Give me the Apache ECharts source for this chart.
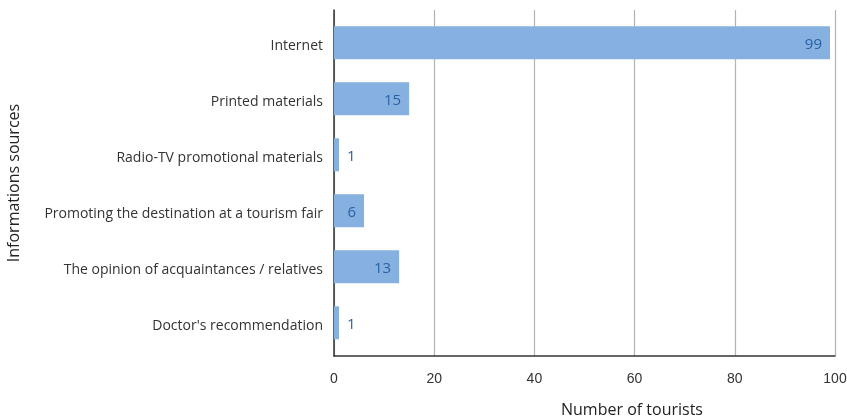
<!DOCTYPE html>
<html>
<head>
<meta charset="utf-8">
<script src="https://cdn.jsdelivr.net/npm/echarts@6/dist/echarts.min.js"></script>
<style>
  html, body { margin: 0; padding: 0; background: #fff; }
  #chart { width: 847px; height: 418px; }
</style>
</head>
<body>
<div id="chart"></div>
<script>
// Information sources used by tourists
const categories = [
  'Internet',
  'Printed materials',
  'Radio-TV promotional materials',
  'Promoting the destination at a tourism fair',
  'The opinion of acquaintances / relatives',
  "Doctor's recommendation"
];
const tourists = [99, 15, 1, 6, 13, 1];
const xTicks = [0, 20, 40, 60, 80, 100];

const labelFont = '"Open Sans", "Noto Sans", sans-serif';
const tickFont = '"Liberation Sans", Arial, sans-serif';

const chart = echarts.init(document.getElementById('chart'), null, { renderer: 'canvas' });

chart.setOption({
  animation: false,
  backgroundColor: '#ffffff',
  grid: [
    // frame: gridlines, axis lines, tick labels
    { left: 334, width: 501, top: 10, height: 346, outerBoundsMode: 'none', containLabel: false },
    // bars and category labels
    { left: 334, width: 501, top: 14.8, height: 336, outerBoundsMode: 'none', containLabel: false }
  ],
  xAxis: [
    {
      gridIndex: 0,
      type: 'value',
      min: xTicks[0],
      max: xTicks[xTicks.length - 1],
      interval: 20,
      axisLine: { show: true, lineStyle: { color: '#333333', width: 1.5 } },
      axisTick: { show: false },
      splitLine: { show: true, lineStyle: { color: '#b3b3b3', width: 1.2 } },
      axisLabel: { color: '#333333', fontFamily: tickFont, fontSize: 14, margin: 16 },
      name: 'Number of tourists',
      nameLocation: 'middle',
      nameGap: 46,
      nameTextStyle: { color: '#222222', fontFamily: labelFont, fontSize: 16, padding: [0, 0, 0, 95] }
    },
    {
      gridIndex: 1,
      type: 'value',
      min: xTicks[0],
      max: xTicks[xTicks.length - 1],
      show: false
    }
  ],
  yAxis: [
    {
      gridIndex: 0,
      type: 'category',
      data: categories,
      axisLine: { show: true, lineStyle: { color: '#333333', width: 1.5 } },
      axisTick: { show: false },
      axisLabel: { show: false },
      name: 'Informations sources',
      nameLocation: 'middle',
      nameGap: 312,
      nameRotate: 90,
      nameTextStyle: { color: '#222222', fontFamily: labelFont, fontSize: 16 }
    },
    {
      gridIndex: 1,
      type: 'category',
      inverse: true,
      data: categories,
      axisLine: { show: false },
      axisTick: { show: false },
      axisLabel: {
        margin: 11,
        formatter: v => '{c|' + v + '}',
        rich: {
          c: {
            color: '#333333',
            fontFamily: labelFont,
            fontSize: 14,
            padding: [6, 0, 0, 0]
          }
        }
      }
    }
  ],
  series: [
    {
      type: 'bar',
      xAxisIndex: 1,
      yAxisIndex: 1,
      barWidth: 33,
      itemStyle: { color: '#86b0df' },
      data: tourists.map(v => ({
        value: v,
        label: { position: v < 3 ? 'right' : 'insideRight' }
      })),
      label: {
        show: true,
        color: '#2a62a6',
        fontFamily: labelFont,
        fontSize: 15,
        distance: 8,
        offset: [0, 2]
      }
    }
  ]
});
</script>
</body>
</html>
